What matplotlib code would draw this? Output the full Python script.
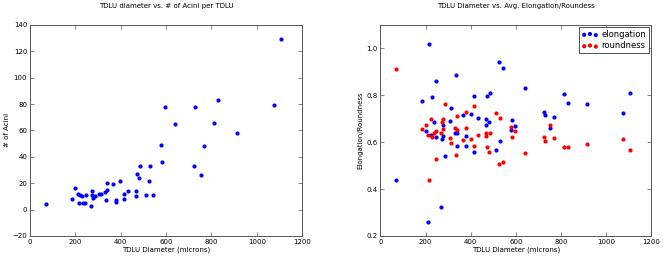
import matplotlib
matplotlib.use("Agg")
import matplotlib.pyplot as plt

# TDLU diameters (microns), shared by both panels
diameter = [69, 186, 201, 212, 217, 222, 228, 236, 245, 247,
            268, 274, 275, 278, 285, 306, 313, 330, 335, 338,
            340, 366, 380, 381, 399, 413, 416, 434, 466, 468,
            471, 482, 486, 511, 524, 531, 541, 579, 582, 594,
            640, 725, 728, 753, 767, 811, 831, 914, 1076, 1107]
acini = [4, 8, 16, 12, 5, 11, 10, 5, 5, 11,
         3, 14, 11, 9, 10, 12, 12, 13, 7, 20,
         15, 19, 6, 7, 22, 8, 12, 14, 14, 10,
         27, 24, 33, 11, 22, 33, 11, 49, 36, 78,
         65, 33, 78, 26, 48, 66, 83, 58, 79, 129]
elongation = [0.439, 0.777, 0.647, 0.26, 1.02, 0.63, 0.794, 0.685, 0.86, 0.622,
              0.324, 0.613, 0.628, 0.673, 0.542, 0.69, 0.744, 0.64, 0.885, 0.639,
              0.584, 0.714, 0.584, 0.628, 0.72, 0.797, 0.557, 0.703, 0.699, 0.673,
              0.797, 0.687, 0.81, 0.565, 0.944, 0.606, 0.915, 0.652, 0.693, 0.67,
              0.83, 0.727, 0.717, 0.662, 0.709, 0.805, 0.767, 0.764, 0.724, 0.811]
roundness = [0.913, 0.658, 0.673, 0.632, 0.439, 0.699, 0.622, 0.64, 0.528, 0.649,
             0.638, 0.687, 0.658, 0.699, 0.764, 0.618, 0.598, 0.662, 0.545, 0.653,
             0.71, 0.608, 0.662, 0.728, 0.612, 0.754, 0.584, 0.632, 0.638, 0.628,
             0.581, 0.56, 0.64, 0.726, 0.508, 0.704, 0.515, 0.665, 0.621, 0.649,
             0.555, 0.623, 0.605, 0.672, 0.616, 0.581, 0.581, 0.592, 0.613, 0.565]

FS = 5
plt.rcParams["font.family"] = "DejaVu Sans"

fig = plt.figure(figsize=(6.64, 2.57), dpi=100, facecolor="white")
ax1 = fig.add_axes([0.045, 0.082, 0.41, 0.821])
ax2 = fig.add_axes([0.573, 0.082, 0.408, 0.821])


def style(ax):
    ax.tick_params(direction="in", top=True, right=True, labelsize=FS,
                   length=3, width=0.5, color="#555555", pad=2)
    for sp in ax.spines.values():
        sp.set_color("#555555")
        sp.set_linewidth(0.7)


ax1.scatter(diameter, acini, s=9, c="blue", linewidths=0)
ax1.set_xlim(0, 1200)
ax1.set_ylim(-20, 140)
ax1.set_xticks(range(0, 1201, 200))
ax1.set_yticks(range(-20, 141, 20))
ax1.set_xlabel("TDLU Diameter (microns)", fontsize=FS, labelpad=1)
ax1.set_ylabel("# of Acini", fontsize=FS, labelpad=2)
ax1.set_title("TDLU diameter vs. # of Acini per TDLU", fontsize=FS, pad=12)
style(ax1)

ax2.scatter(diameter, elongation, s=9, c="blue", linewidths=0, label="elongation")
ax2.scatter(diameter, roundness, s=9, c="red", linewidths=0, label="roundness")
ax2.set_xlim(0, 1200)
ax2.set_ylim(0.2, 1.1)
ax2.set_xticks(range(0, 1201, 200))
ax2.set_yticks([0.2, 0.4, 0.6, 0.8, 1.0])
ax2.set_xlabel("TDLU Diameter (microns)", fontsize=FS, labelpad=1)
ax2.set_ylabel("Elongation/Roundness", fontsize=FS, labelpad=2)
ax2.set_title("TDLU Diameter vs. Avg. Elongation/Roundess", fontsize=FS, pad=12)
leg = ax2.legend(loc="upper right", fontsize=6, scatterpoints=3,
                 scatteryoffsets=[0.375, 0.5, 0.3125], fancybox=False,
                 borderaxespad=0.3, handletextpad=0.4, labelspacing=0.3,
                 borderpad=0.3, handlelength=2.0)
leg.get_frame().set_edgecolor("black")
leg.get_frame().set_linewidth(0.6)
style(ax2)

fig.savefig("out.png", dpi=100, facecolor="white")
